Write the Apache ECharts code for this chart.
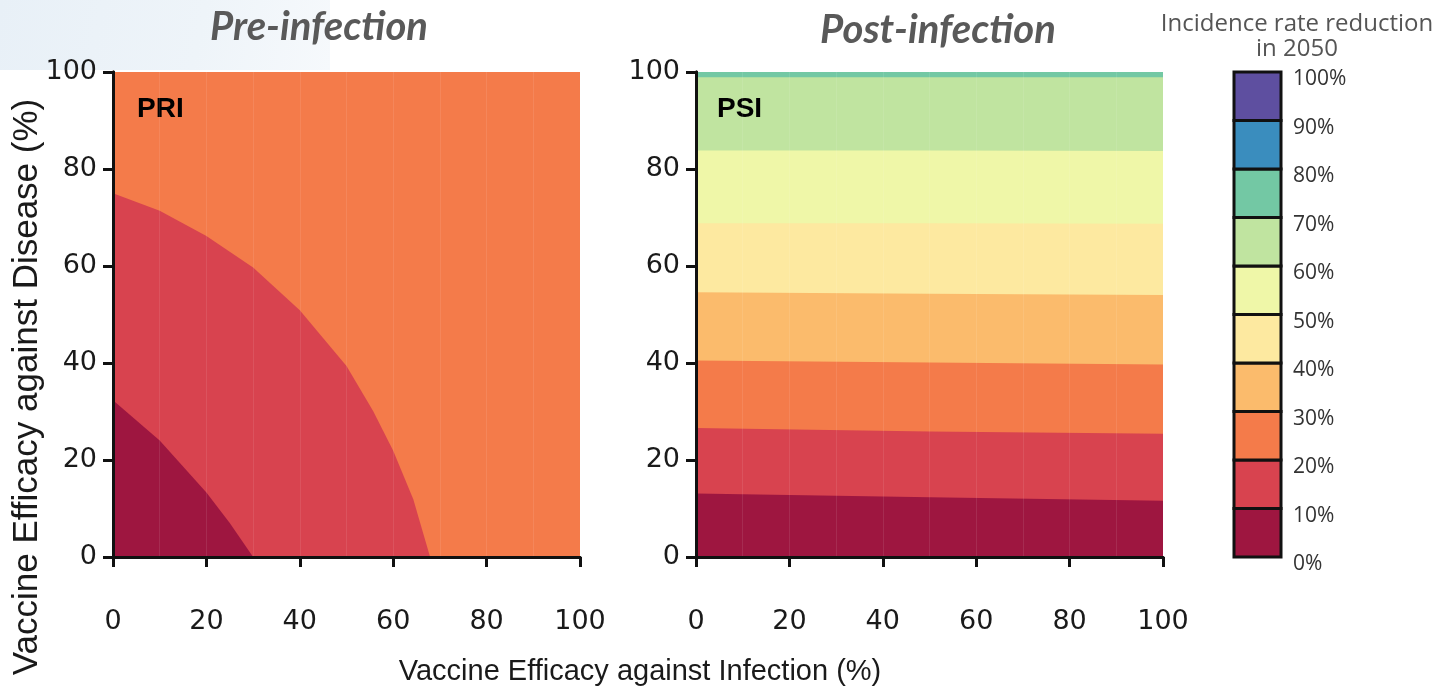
<!DOCTYPE html>
<html>
<head>
<meta charset="utf-8">
<script src="https://cdn.jsdelivr.net/npm/echarts@6/dist/echarts.min.js"></script>
<style>
  html, body { margin: 0; padding: 0; background: #ffffff; }
  #chart { width: 1442px; height: 699px; }
</style>
</head>
<body>
<div id="chart"></div>
<script>
// Axis ticks (vaccine efficacy, %)
const efficacyTicks = [0, 20, 40, 60, 80, 100];
// Colour-bar levels for incidence rate reduction (%)
const levels = [0, 10, 20, 30, 40, 50, 60, 70, 80, 90, 100];
const bandColors = ['#9E1640', '#D8434F', '#F47B4A', '#FBBB6C', '#FDE9A0',
                    '#EFF7A8', '#C0E4A0', '#73C8A4', '#3A8DBE', '#5E4FA0'];

// Pre-infection vaccine (PRI): contour lines, [VE infection, VE disease]
const priEdge10 = [[0, 32.3], [10, 24.0], [20, 13.3], [25, 7.0], [30, 0]];
const priEdge20 = [[0, 75.0], [10, 71.4], [20, 66.2], [30, 59.7], [40, 50.9],
                   [50, 39.4], [55.7, 30.1], [60, 21.9], [64.3, 11.9], [67.9, 0]];
const priTop = [[0, 100], [100, 100]];

// Post-infection vaccine (PSI): contour lines
const psiEdge10 = [[0, 13.1], [50, 12.3], [100, 11.6]];
const psiEdge20 = [[0, 26.6], [50, 25.9], [100, 25.4]];
const psiEdge30 = [[0, 40.5], [50, 40.1], [100, 39.7]];
const psiEdge40 = [[0, 54.6], [50, 54.3], [100, 54.0]];
const psiEdge50 = [[0, 68.8], [50, 68.8], [100, 68.7]];
const psiEdge60 = [[0, 83.8], [50, 83.8], [100, 83.7]];
const psiEdge70 = [[0, 98.9], [100, 98.9]];
const psiTop = [[0, 100], [100, 100]];

// Each filled band: the contour under which the band's colour is painted,
// listed from the top band down so lower bands are painted over it.
const priBands = [[priTop, 2], [priEdge20, 1], [priEdge10, 0]];
const psiBands = [[psiTop, 7], [psiEdge70, 6], [psiEdge60, 5], [psiEdge50, 4],
                  [psiEdge40, 3], [psiEdge30, 2], [psiEdge20, 1], [psiEdge10, 0]];

const tickFont = '"DejaVu Sans", sans-serif';
const textFont = '"Liberation Sans", Arial, sans-serif';
const BLACK = '#111111';

function bottomAxis(gridIndex) {
  return {
    gridIndex, type: 'value', min: 0, max: 100, interval: 20, position: 'bottom', z: 10,
    axisLine: { show: true, lineStyle: { color: BLACK, width: 3 } },
    axisTick: { show: true, inside: false, length: 10, lineStyle: { color: BLACK, width: 3 } },
    axisLabel: { margin: 51, fontFamily: tickFont, fontSize: 27, color: '#1a1a1a',
                 formatter: v => efficacyTicks.includes(v) ? String(v) : '' },
    splitLine: { show: true, lineStyle: { color: 'rgba(255,255,255,0.09)', width: 1 } },
    minorTick: { show: false, splitNumber: 2 },
    minorSplitLine: { show: true, lineStyle: { color: 'rgba(255,255,255,0.09)', width: 1 } }
  };
}
function topAxis(gridIndex) {
  return {
    gridIndex, type: 'value', min: 0, max: 100, position: 'top', z: 10,
    axisLine: { show: true, lineStyle: { color: BLACK, width: 3 } },
    axisTick: { show: false }, axisLabel: { show: false }, splitLine: { show: false }
  };
}
function leftAxis(gridIndex) {
  return {
    gridIndex, type: 'value', min: 0, max: 100, interval: 20, position: 'left', z: 10,
    axisLine: { show: true, lineStyle: { color: BLACK, width: 3 } },
    axisTick: { show: true, inside: false, length: 10, lineStyle: { color: BLACK, width: 3 } },
    axisLabel: { margin: 16, fontFamily: tickFont, fontSize: 27, color: '#1a1a1a',
                 formatter: v => efficacyTicks.includes(v) ? String(v) : '' },
    splitLine: { show: false }
  };
}
function rightAxis(gridIndex) {
  return {
    gridIndex, type: 'value', min: 0, max: 100, position: 'right', z: 10,
    axisLine: { show: true, lineStyle: { color: BLACK, width: 3 } },
    axisTick: { show: false }, axisLabel: { show: false }, splitLine: { show: false }
  };
}

function bandSeries(bands, axisIndex) {
  return bands.map(([edge, level]) => ({
    type: 'line', xAxisIndex: axisIndex, yAxisIndex: axisIndex,
    data: edge, symbol: 'none', silent: true, smooth: false,
    lineStyle: { width: 0 },
    areaStyle: { color: bandColors[level], opacity: 1, origin: 'start' },
    z: 2
  }));
}

// Colour bar: one box per 10% level
const colorBarData = levels.slice(0, -1).map((lo, i) => [lo, levels[i + 1]]);

const chart = echarts.init(document.getElementById('chart'), null, { renderer: 'canvas' });

const option = {
  backgroundColor: '#ffffff',
  animation: false,
  grid: [
    { left: 113, top: 72, width: 467, height: 485 },
    { left: 696, top: 72, width: 467, height: 485 },
    { left: 1234, top: 72, width: 47, height: 485 }
  ],
  xAxis: [
    bottomAxis(0), bottomAxis(1),
    { gridIndex: 2, type: 'value', min: 0, max: 1, show: false },
    topAxis(0), topAxis(1)
  ],
  yAxis: [
    leftAxis(0), leftAxis(1),
    {
      gridIndex: 2, type: 'value', min: 0, max: 100, interval: 10, position: 'right',
      axisLine: { show: false }, axisTick: { show: false }, splitLine: { show: false },
      axisLabel: {
        margin: 12, formatter: v => '{t|' + v + '%}',
        rich: { t: { fontFamily: '"Open Sans", sans-serif', fontSize: 21, color: '#333333',
                     padding: [15, 0, 0, 0] } }
      }
    },
    rightAxis(0), rightAxis(1)
  ],
  title: [
    { text: 'PRI', left: 132, top: 90, textStyle: { fontFamily: textFont, fontWeight: 'bold', fontSize: 28, color: '#000' } },
    { text: 'PSI', left: 712, top: 90, textStyle: { fontFamily: textFont, fontWeight: 'bold', fontSize: 28, color: '#000' } }
  ],
  graphic: [
    { type: 'rect', z: -10, shape: { x: 0, y: 0, width: 330, height: 70 },
      style: { fill: new echarts.graphic.LinearGradient(0, 0, 1, 1, [
        { offset: 0, color: '#E8F0F7' }, { offset: 0.6, color: '#EEF4F9' }, { offset: 1, color: '#F6F9FC' }]) } },
    { type: 'text', x: 319, y: 27, style: { text: 'Pre-infection', textAlign: 'center', textVerticalAlign: 'middle',
      font: 'italic bold 40px Lato, sans-serif', fill: '#595959' } },
    { type: 'text', x: 938, y: 30, style: { text: 'Post-infection', textAlign: 'center', textVerticalAlign: 'middle',
      font: 'italic bold 40px Lato, sans-serif', fill: '#595959' } },
    { type: 'text', x: 1297, y: 24, style: { text: 'Incidence rate reduction', textAlign: 'center', textVerticalAlign: 'middle',
      font: '24px "Open Sans", sans-serif', fill: '#555555' } },
    { type: 'text', x: 1297, y: 49, style: { text: 'in 2050', textAlign: 'center', textVerticalAlign: 'middle',
      font: '24px "Open Sans", sans-serif', fill: '#555555' } },
    { type: 'text', x: 640, y: 672, style: { text: 'Vaccine Efficacy against Infection (%)', textAlign: 'center', textVerticalAlign: 'middle',
      font: '29px ' + textFont, fill: '#1a1a1a' } },
    { type: 'text', x: 27, y: 387, rotation: Math.PI / 2, style: { text: 'Vaccine Efficacy against Disease (%)', textAlign: 'center', textVerticalAlign: 'middle',
      font: '35px ' + textFont, fill: '#1a1a1a' } }
  ],
  series: [
    ...bandSeries(priBands, 0),
    ...bandSeries(psiBands, 1),
    {
      type: 'custom', xAxisIndex: 2, yAxisIndex: 2, data: colorBarData, silent: true,
      encode: { y: [0, 1] },
      renderItem: function (params, api) {
        const p0 = api.coord([0, api.value(0)]);
        const p1 = api.coord([1, api.value(1)]);
        return {
          type: 'rect',
          shape: { x: p0[0], y: p1[1], width: p1[0] - p0[0], height: p0[1] - p1[1] },
          style: { fill: bandColors[params.dataIndex], stroke: BLACK, lineWidth: 3 }
        };
      }
    }
  ]
};

chart.setOption(option);
</script>
</body>
</html>
